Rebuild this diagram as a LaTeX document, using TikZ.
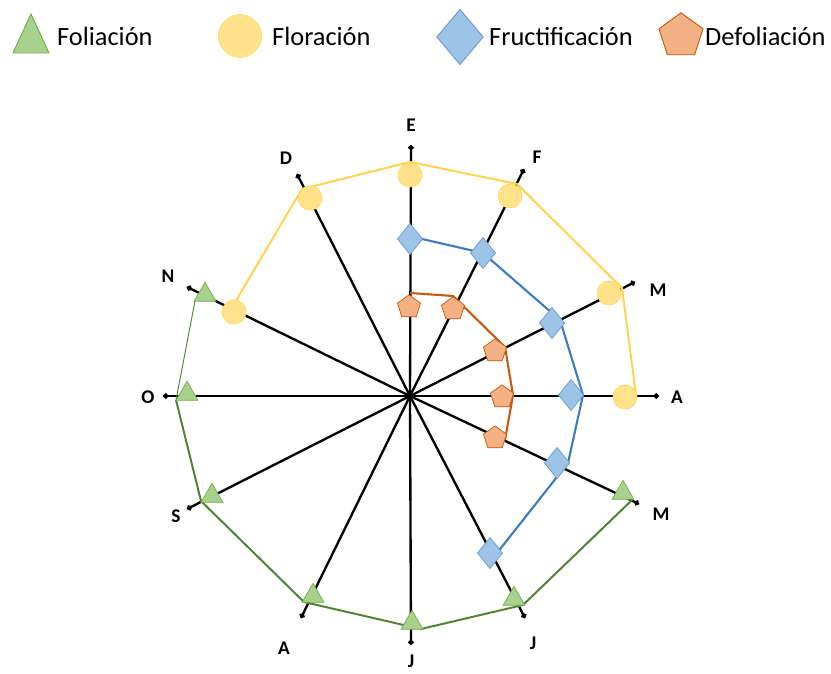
\documentclass[tikz,border=0pt]{standalone}
\usepackage{fontspec}
\setmainfont{Carlito}
\usetikzlibrary{arrows.meta,shapes.geometric}
\definecolor{folfill}{HTML}{A9D18E}
\definecolor{foledge}{HTML}{70AD47}
\definecolor{folline}{HTML}{548235}
\definecolor{flofill}{HTML}{FFE28A}
\definecolor{floedge}{HTML}{FFD966}
\definecolor{floline}{HTML}{FFD34E}
\definecolor{frufill}{HTML}{9DC3E6}
\definecolor{fruedge}{HTML}{6A9ACF}
\definecolor{fruline}{HTML}{3A7DC0}
\definecolor{deffill}{HTML}{F4B183}
\definecolor{defedge}{HTML}{C55A11}
\definecolor{defline}{HTML}{C55A11}

\begin{document}
\begin{tikzpicture}[x=0.3mm, y=0.3mm,
    axis/.style={line width=2pt, -{Circle[length=4.5pt,width=4.5pt]}},
    axlbl/.style={font=\fontsize{16.5}{19}\selectfont\bfseries},
    legtxt/.style={anchor=west, inner sep=0pt, font=\fontsize{22.5}{27}\selectfont},
    folmark/.style={regular polygon, regular polygon sides=3, draw=foledge, fill=folfill, line width=0.6pt, minimum size=7.6mm, inner sep=0pt},
    flomark/.style={circle, draw=floedge, fill=flofill, line width=0.6pt, minimum size=7.2mm, inner sep=0pt},
    frumark/.style={diamond, draw=fruedge, fill=frufill, line width=0.6pt, minimum width=7.6mm, minimum height=9.4mm, inner sep=0pt},
    defmark/.style={regular polygon, regular polygon sides=5, draw=defedge, fill=deffill, line width=0.6pt, minimum size=7.3mm, inner sep=0pt},
]
    \useasboundingbox (-410,-277) rectangle (421,396);

    % Legend
    \draw[draw=foledge, fill=folfill, line width=0.8pt] (-379,382) -- (-397,343) -- (-361,343) -- cycle;
    \node[legtxt] (leg-fol) at (-353,360) {Foliación};
    \node[ellipse, draw=floedge, fill=flofill, minimum width=13mm, minimum height=12.9mm, inner sep=0pt] (leg-flo-m) at (-170,360) {};
    \node[legtxt] (leg-flo) at (-138,360) {Floración};
    \node[diamond, draw=fruedge, fill=frufill, line width=0.8pt, minimum width=14mm, minimum height=16.6mm, inner sep=0pt] (leg-fru-m) at (50,359) {};
    \node[legtxt] (leg-fru) at (79,360) {Fructificación};
    \node[regular polygon, regular polygon sides=5, draw=defedge, fill=deffill, line width=0.8pt, minimum size=13.9mm, inner sep=0pt] (leg-def-m) at (271,360) {};
    \node[legtxt] (leg-def) at (295,360) {Defoliación};

    % Axes (one per month)
    \coordinate (c) at (0,0);
    \foreach \n/\x/\y/\lx/\ly/\t in {e/1/251/1/271/E, f/114/227/127/239/F, m/225/114/248/106/M,
        a/249/0/267/-1/A, mm/229/-108/251/-118/M, jj/115/-222/123/-247/J, j/1/-249/1/-265/J,
        aa/-109/-222/-126/-252/A, s/-223/-113/-234/-120/S, o/-247/0/-262/-1/O,
        n/-223/109/-242/120/N, d/-113/222/-124/238/D} {
        \coordinate (ax-\n) at (\x,\y);
        \draw[axis] (c) -- (ax-\n);
        \node[axlbl] (lbl-\n) at (\lx,\ly) {\t};
    }

    % Floracion
    \coordinate (y-n) at (-176,92);
    \coordinate (y-d) at (-108,207);
    \coordinate (y-e) at (0,234);
    \coordinate (y-f) at (107,212);
    \coordinate (y-m) at (212,108);
    \coordinate (y-a) at (226,1);
    \draw[floline, line width=1.7pt] (y-n) -- (y-d) -- (y-e) -- (y-f) -- (y-m) -- (y-a);

    % Fructificacion
    \coordinate (b-e) at (12,157);
    \coordinate (b-f) at (73,143);
    \coordinate (b-m) at (150,76);
    \coordinate (b-a) at (173,1);
    \coordinate (b-mm) at (158,-67);
    \coordinate (b-jj) at (87,-157);
    \draw[fruline, line width=1.8pt] (b-e) -- (b-f) -- (b-m) -- (b-a) -- (b-mm) -- (b-jj);

    % Defoliacion
    \coordinate (o-e) at (0,103);
    \coordinate (o-f) at (43,100);
    \coordinate (o-m) at (95,49);
    \coordinate (o-a) at (103,1);
    \coordinate (o-mm) at (95,-44);
    \draw[defline, line width=1.8pt] (o-e) -- (o-f) -- (o-m) -- (o-a) -- (o-mm);

    % Foliacion
    \coordinate (g-n) at (-215,95);
    \coordinate (g-o) at (-234,-4);
    \coordinate (g-s) at (-209,-105);
    \coordinate (g-aa) at (-106,-206);
    \coordinate (g-j) at (11,-233);
    \coordinate (g-jj) at (113,-209);
    \coordinate (g-mm) at (222,-104);
    \draw[folline, line width=0.8pt] (g-n) -- (g-o);
    \draw[folline, line width=1.7pt] (g-o) -- (g-s) -- (g-aa) -- (g-j) -- (g-jj) -- (g-mm);

    % Markers
    \node[flomark] (fl-n) at (-176,84) {};
    \node[flomark] (fl-d) at (-100,198) {};
    \node[flomark] (fl-e) at (0,221) {};
    \node[flomark] (fl-f) at (100,200) {};
    \node[flomark] (fl-m) at (199,103) {};
    \node[flomark] (fl-a) at (215,-1) {};

    \node[frumark] (fr-e) at (0,157) {};
    \node[frumark] (fr-f) at (73,143) {};
    \node[frumark] (fr-m) at (142,73) {};
    \node[frumark] (fr-a) at (161,1) {};
    \node[frumark] (fr-mm) at (147,-67) {};
    \node[frumark] (fr-jj) at (80,-157) {};

    \node[defmark] (de-e) at (-1,89) {};
    \node[defmark] (de-f) at (43,87) {};
    \node[defmark] (de-m) at (85,45) {};
    \node[defmark] (de-a) at (92,-1) {};
    \node[defmark] (de-mm) at (85,-42) {};

    \node[folmark] (fo-n) at (-205,101) {};
    \node[folmark] (fo-o) at (-223,2) {};
    \node[folmark] (fo-s) at (-198,-100) {};
    \node[folmark] (fo-aa) at (-97,-200) {};
    \node[folmark] (fo-j) at (2,-227) {};
    \node[folmark] (fo-jj) at (104,-203) {};
    \node[folmark] (fo-mm) at (213,-97) {};
\end{tikzpicture}
\end{document}
